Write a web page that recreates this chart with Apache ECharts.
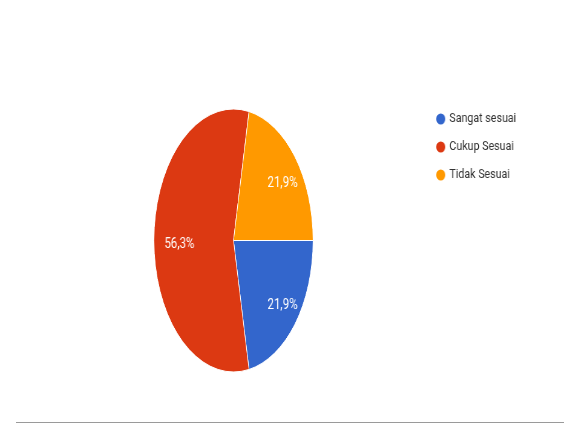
<!DOCTYPE html>
<html><head><meta charset="utf-8">
<script src="https://cdn.jsdelivr.net/npm/echarts@6/dist/echarts.min.js"></script>
<style>
html,body{margin:0;padding:0;background:#fff;width:564px;height:432px;overflow:hidden;}
#pie{position:absolute;left:0;top:0;width:932px;height:432px;transform:scaleX(0.605);transform-origin:0 0;}
#txt{position:absolute;left:0;top:0;width:688px;height:432px;transform:scaleX(0.82);transform-origin:0 0;}
#rule{position:absolute;left:16px;top:422px;width:548px;height:1px;background:#9a9a9a;}
</style></head><body>
<div id="pie"></div><div id="txt"></div><div id="rule"></div>
<script>
const categories = ['Sangat sesuai', 'Cukup Sesuai', 'Tidak Sesuai'];
const percents = [21.9, 56.3, 21.9];
const colors = ['#3366cc', '#dc3912', '#ff9900'];

const SX_PIE = 0.605, SX_TXT = 0.82;
const CX = 233.5, CY = 240.5, R = 131.5;

const pieData = categories.map((c, i) => ({ name: c, value: percents[i] }));

const chartA = echarts.init(document.getElementById('pie'), null, { renderer: 'canvas' });
chartA.setOption({
  animation: false,
  color: colors,
  series: [{
    type: 'pie',
    center: [CX / SX_PIE, CY],
    radius: R,
    startAngle: 0,
    clockwise: true,
    label: { show: false },
    labelLine: { show: false },
    itemStyle: { borderColor: '#fff', borderWidth: 1 },
    emphasis: { disabled: true },
    data: pieData
  }]
});

const CXB = CX / SX_TXT;
const K = SX_PIE / SX_TXT;
const chartB = echarts.init(document.getElementById('txt'), null, { renderer: 'canvas' });
chartB.setOption({
  animation: false,
  legend: {
    orient: 'vertical',
    left: 527,
    top: 106,
    icon: 'circle',
    itemWidth: 11,
    itemHeight: 11,
    itemGap: 12,
    textStyle: { fontFamily: 'Roboto', fontSize: 13, color: '#333', lineHeight: 16 },
    data: categories.map((c, i) => ({ name: c, itemStyle: { color: colors[i], borderWidth: 0 } }))
  },
  series: [{
    type: 'pie',
    center: [CXB, CY],
    radius: [55, R],
    startAngle: 0,
    clockwise: true,
    silent: true,
    itemStyle: { color: 'rgba(0,0,0,0)', borderWidth: 0 },
    label: {
      show: true,
      position: 'inside',
      color: '#fff',
      fontFamily: 'Roboto',
      fontSize: 14,
      formatter: p => p.value.toFixed(1).replace('.', ',') + '%'
    },
    labelLine: { show: false },
    labelLayout: function (params) {
      const r = params.labelRect;
      const lx = r.x + r.width / 2;
      return { dx: (lx - CXB) * (K - 1) + 5, dy: 4 };
    },
    data: pieData
  }]
});
</script>
</body></html>
